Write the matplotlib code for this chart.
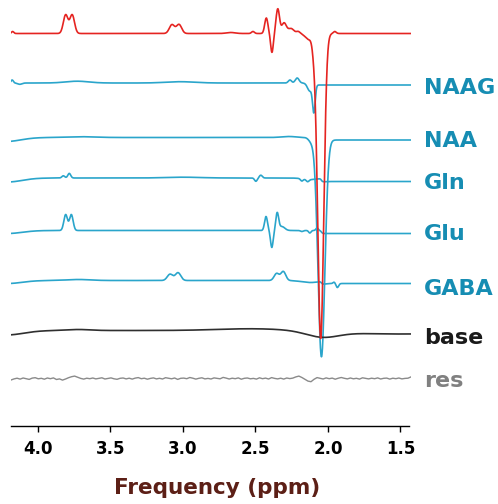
import numpy as np
import matplotlib
matplotlib.use("Agg")
import matplotlib.pyplot as plt

plt.rcParams['font.family'] = ['DejaVu Sans']
plt.rcParams['font.weight'] = 'bold'

# spectral components: (centre ppm, height px, width ppm)
RED_PEAKS = [(4.175, 2.0, 0.008),
             (3.809, 18.6, 0.016), (3.764, 18.6, 0.016),
             (3.076, 8.8, 0.018), (3.027, 9.0, 0.018),
             (2.67, 1.0, 0.03), (2.517, 2.0, 0.010),
             (2.425, 15.5, 0.011), (2.386, -19.0, 0.009), (2.346, 24.5, 0.012),
             (2.303, 10.5, 0.016), (2.255, 5.0, 0.02), (2.205, 2.0, 0.012),
             (2.13, -6.0, 0.025), (2.098, -10.0, 0.011),
             (2.050, -305.0, 0.021), (1.953, 2.0, 0.010)]
NAAG_PEAKS = [(4.178, 3.0, 0.008), (4.125, -1.3, 0.014),
              (3.73, 1.8, 0.08), (3.02, 1.3, 0.10),
              (2.262, 3.0, 0.011), (2.212, 5.0, 0.013),
              (2.125, -8.0, 0.016), (2.097, -28.0, 0.009)]
NAA_PEAKS = [(4.22, -4.0, 0.10), (3.71, 0.8, 0.10), (2.27, 1.0, 0.05),
             (2.115, -4.0, 0.018), (2.045, -218.0, 0.024)]
GLN_PEAKS = [(4.21, -4.0, 0.10),
             (3.825, 2.2, 0.010), (3.784, 4.6, 0.010),
             (3.0, 0.8, 0.12),
             (2.497, -3.3, 0.009), (2.463, 2.8, 0.010),
             (2.18, -2.3, 0.009), (2.14, -2.3, 0.010), (2.12, -1.5, 0.05)]
GLU_PEAKS = [(4.21, -3.0, 0.10),
             (3.809, 15.9, 0.0125), (3.770, 15.9, 0.0125),
             (2.427, 14.0, 0.010), (2.387, -17.0, 0.009), (2.350, 17.0, 0.010),
             (2.318, 4.0, 0.02),
             (2.18, -1.0, 0.009), (2.125, -2.5, 0.008), (2.075, 2.5, 0.008)]
GABA_PEAKS = [(4.21, -3.0, 0.10), (3.72, 1.0, 0.08),
              (3.089, 6.3, 0.019), (3.034, 7.8, 0.019),
              (2.354, 7.0, 0.017), (2.308, 9.0, 0.017),
              (2.12, -2.0, 0.06),
              (1.957, 1.5, 0.008), (1.935, -4.0, 0.009)]
BASE_PEAKS = [(4.22, -4.5, 0.12), (3.72, 1.0, 0.08), (2.5, 2.0, 0.25),
              (2.04, -5.5, 0.11), (1.5, -3.5, 0.45)]

# level change right of the big dip: (ppm, px)
STEPS = {'red': (2.05, 0.0), 'NAAG': (2.09, -2.0), 'NAA': (2.045, -2.5),
         'Gln': (2.045, -3.5), 'Glu': (2.045, -3.0), 'GABA': (2.045, -3.0),
         'base': (2.045, 0.0)}

# residual, px, evenly spaced from left edge to right edge
RES_VALUES = [-1.5, -0.4, 0.3, -0.6, 0.5, -0.2, -0.9, 0.4, 0.8, -0.3,
              0.2, -0.7, 0.5, -0.2, 0.6, -1.0, -0.4, -1.6, -0.5, 0.8,
              1.8, 2.4, 1.2, 0.1, -0.6, 0.3, -0.2, 0.5, -0.4, 0.2,
              0.7, -0.5, 0.1, 0.6, -0.3, -0.8, 0.2, 0.5, -0.4, 0.3,
              -0.6, 0.4, 0.9, -0.2, 0.3, -0.7, 0.1, 0.6, -0.4, 0.2,
              -0.5, 0.8, 0.3, -0.3, 0.5, -0.9, 0.2, 0.4, -0.2, 1.0,
              0.3, -0.6, 0.2, 0.7, -0.4, 0.1, -0.5, 0.6, 0.2, -0.3,
              1.1, 0.4, -0.5, 0.3, -0.2, 0.6, -0.7, 0.2, 0.5, -0.3,
              0.1, -0.6, 0.7, -0.2, 0.4, -0.5, 0.9, 0.1, -0.4, 0.3,
              -0.6, 0.5, -0.1, 0.4, 1.6, 2.4, 1.0, -0.8, -2.6, -3.2,
              -0.8, 0.9, 0.2, -0.5, 0.6, -0.2, 0.4, -0.7, 0.3, 1.0,
              0.2, -0.4, 0.5, -0.3, 0.2, -0.6, 0.7, 0.1, -0.4, 0.3,
              -0.2, 0.6, -0.5, 0.2, 0.4, -0.6, 0.3, -0.2, 0.5, -0.4,
              0.1, 0.3, 1.6]

NAMES = ['red', 'NAAG', 'NAA', 'Gln', 'Glu', 'GABA', 'base']
PEAKS = [RED_PEAKS, NAAG_PEAKS, NAA_PEAKS, GLN_PEAKS, GLU_PEAKS, GABA_PEAKS, BASE_PEAKS]
LABELS = ['NAAG', 'NAA', 'Gln', 'Glu', 'GABA', 'base', 'res']

XTICKS = [4.0, 3.5, 3.0, 2.5, 2.0, 1.5]
XTICK_LABELS = ['4.0', '3.5', '3.0', '2.5', '2.0', '1.5']

# layout (pixels from the top)
PPM_LEFT, PPM_RIGHT = 4.186, 1.427
OFFSETS = [33.5, 83, 137.5, 178, 230.5, 280.5, 330.5, 378.5]
LABEL_Y = [88, 141, 183, 234, 289, 338, 381]

RED = '#e52421'
TEAL = '#2aa5cb'
TEAL_TXT = '#168db3'
COLORS = [RED, TEAL, TEAL, TEAL, TEAL, TEAL, '#2f2f2f', '#8a8a8a']
TXT_COLORS = [TEAL_TXT] * 5 + ['#1a1a1a', '#808080']


def spectrum(ppm, peaks, step):
    y = np.zeros_like(ppm)
    for c, a, s in peaks:
        y += a * np.exp(-0.5 * ((ppm - c) / s) ** 2)
    c0, h = step
    y += h * 0.5 * (1 + np.tanh((c0 - ppm) / 0.008))
    return y


fig = plt.figure(figsize=(4.98, 5.04), dpi=100)
ax = fig.add_axes([11 / 498, 78 / 504, 400 / 498, 426 / 504])

ppm = np.linspace(PPM_LEFT, PPM_RIGHT, 1600)

for i, name in enumerate(NAMES):
    y = spectrum(ppm, PEAKS[i], STEPS[name])
    z = 5 if name == 'red' else 3
    ax.plot(ppm, -OFFSETS[i] + y, color=COLORS[i], lw=1.2, zorder=z)

res_ppm = np.linspace(PPM_LEFT, PPM_RIGHT, len(RES_VALUES))
ax.plot(res_ppm, -OFFSETS[7] + np.array(RES_VALUES), color=COLORS[7], lw=1.0)

for i, lab in enumerate(LABELS):
    ax.text(1.336, -LABEL_Y[i], lab, color=TXT_COLORS[i], fontsize=16,
            fontweight='bold', ha='left', va='center', clip_on=False)

ax.set_xlim(PPM_LEFT, PPM_RIGHT)
ax.set_ylim(-426, 0)
for s in ['top', 'left', 'right']:
    ax.spines[s].set_visible(False)
ax.spines['bottom'].set_bounds(PPM_LEFT, 1.44)
ax.spines['bottom'].set_linewidth(1.0)
ax.set_yticks([])
ax.set_xticks(XTICKS, labels=XTICK_LABELS)
ax.tick_params(axis='x', direction='out', length=4, width=1, pad=6, labelsize=12)
for t in ax.get_xticklabels():
    t.set_fontweight('bold')

fig.text(217 / 498, 1 - 488 / 504, 'Frequency (ppm)', color='#5c1f16',
         fontsize=15.5, fontweight='bold', ha='center', va='center')

fig.savefig('out.png', dpi=100)
